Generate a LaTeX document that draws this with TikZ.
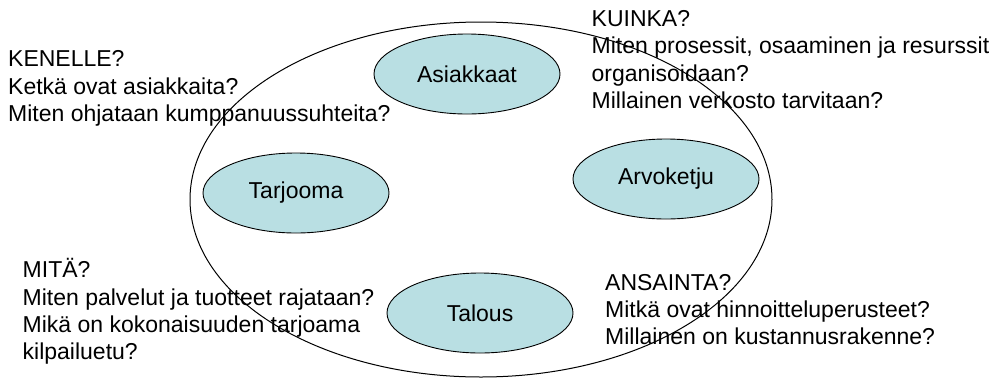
\documentclass[tikz,border=0pt]{standalone}
\usepackage{fontspec}
\setmainfont{Liberation Sans}
\usetikzlibrary{shapes.geometric}
\definecolor{topicfill}{HTML}{B9DFE3}
\tikzset{
  txt/.style={font=\fontsize{23}{27.2}\selectfont, inner sep=0pt, anchor=base west},
  topic/.style={ellipse, draw=black, line width=0.9pt, fill=topicfill,
    minimum width=186pt, minimum height=80pt, inner sep=0pt,
    font=\fontsize{23}{27.2}\selectfont},
  frame/.style={ellipse, draw=black, line width=1pt,
    minimum width=582pt, minimum height=355pt, inner sep=0pt}
}
\begin{document}
\begin{tikzpicture}[x=1pt, y=-1pt]
\useasboundingbox (0,0) rectangle (1004,378);
% outer model boundary
\node[frame] (model) at (481,199.5) {};
% four building blocks
\node[topic] (asiakkaat) at (467,74) {Asiakkaat};
\node[topic] (tarjooma) at (296,193) {Tarjooma};
\node[topic] (arvoketju) at (666,179) {Arvoketju};
\node[topic] (talous) at (480,313) {Talous};
% question blocks, one node per line
\node[txt] (kenelleA) at (8,66.7) {KENELLE?};
\node[txt] (kenelleB) at (8,94) {Ketkä ovat asiakkaita?};
\node[txt] (kenelleC) at (8,121.2) {Miten ohjataan kumppanuussuhteita?};
\node[txt] (kuinkaA) at (591.5,26.5) {KUINKA?};
\node[txt] (kuinkaB) at (591.5,53.8) {Miten prosessit, osaaminen ja resurssit};
\node[txt] (kuinkaC) at (591.5,81) {organisoidaan?};
\node[txt] (kuinkaD) at (591.5,108.2) {Millainen verkosto tarvitaan?};
\node[txt] (mitaA) at (22.5,277.7) {MITÄ?};
\node[txt] (mitaB) at (22.5,305) {Miten palvelut ja tuotteet rajataan?};
\node[txt] (mitaC) at (22.5,332.2) {Mikä on kokonaisuuden tarjoama};
\node[txt] (mitaD) at (22.5,359.4) {kilpailuetu?};
\node[txt] (ansaintaA) at (605,290) {ANSAINTA?};
\node[txt] (ansaintaB) at (605,317.2) {Mitkä ovat hinnoitteluperusteet?};
\node[txt] (ansaintaC) at (605,344.4) {Millainen on kustannusrakenne?};
\end{tikzpicture}
\end{document}
